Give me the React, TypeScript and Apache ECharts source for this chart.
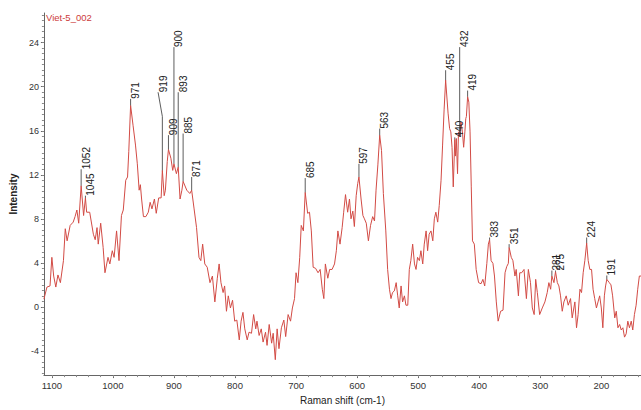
import React, { useEffect, useRef } from "react";
import * as echarts from "echarts";

const chartTitle = "Viet-5_002";
const xName = "Raman shift (cm-1)";
const yName = "Intensity";

const ramanShift = [
  1113, 1108, 1103, 1100, 1097, 1093.5, 1090, 1086, 1081, 1078, 1075, 1070, 1065, 1062, 1059, 1056, 1052, 1048, 1045, 1043,
  1038, 1032, 1029, 1026, 1024, 1020, 1016, 1013, 1008, 1005, 1001, 998, 994, 990, 986, 983, 979, 976, 974, 971,
  967, 963, 960, 957, 955, 953, 950, 946, 942, 939, 936, 932, 929, 925, 921, 919, 916, 914, 911, 909,
  905, 902, 900, 896, 893, 890, 887, 885, 879, 874, 871, 867, 863, 859, 856, 853, 849.5, 845.5, 841, 837,
  833, 829, 826, 823, 819.5, 817, 814, 811, 807.5, 804, 800.5, 797, 793, 790, 787, 784, 780, 777, 773, 769.5,
  766, 764, 760.5, 757, 754, 750, 747.5, 744, 740, 737.5, 734, 731, 728, 724, 720, 717, 713, 709, 706, 702.5,
  700, 697, 694, 691.5, 688, 685, 681, 678, 675, 672, 668, 664, 660.5, 657, 654.5, 652, 648, 645, 641, 637,
  634, 631.5, 628, 624.5, 622, 619, 615.5, 612.5, 610, 607, 604.5, 601.5, 599, 597, 593.5, 590.5, 588, 585, 581.5, 578,
  574.5, 571.5, 569, 566, 563, 560, 557, 553, 550, 547, 544.5, 542, 539, 536, 533.5, 531, 528, 525.5, 522.5, 520,
  517, 514.5, 512, 509, 506, 503.5, 501, 498, 495.5, 492.5, 490, 487, 484.5, 482, 479, 476, 473.5, 471, 468, 465.5,
  462.5, 460, 457.5, 455, 451, 448.5, 446.5, 444.5, 442.5, 440, 439, 437.5, 435.5, 434, 432, 430, 427.5, 425.5, 423.5, 422,
  421, 419, 417, 415, 413, 411, 408, 405, 401, 397, 394, 391, 387.5, 385, 383, 380.5, 377.5, 375, 372, 369,
  365, 361, 357.7, 355, 352.3, 351, 347.5, 344.8, 341.5, 339.4, 335.8, 333.6, 330.4, 326.6, 322.7, 319.5, 316, 313, 310, 307.5,
  304.8, 301, 296.7, 292.4, 288.6, 285.9, 283, 281, 277.6, 275, 272, 269.5, 266.8, 264, 261.3, 257.5, 254.2, 250.4, 247.7, 243.3,
  240.6, 238, 235, 232.4, 229.7, 227, 224, 221.5, 218.8, 216, 213.5, 210.8, 208, 205.4, 202.7, 200, 197.5, 195, 193, 191,
  186.9, 184.2, 181.5, 178, 175.5, 172.8, 170, 167.4, 164.7, 162, 159.3, 156.6, 153.9, 151, 148.5, 145.8, 143, 140.4, 137.7, 135,
];

const intensity = [
  0.7, 1.8, 1.9, 4.5, 2.8, 1.8, 2.9, 2.2, 4.2, 7.1, 6.0, 7.4, 7.7, 8.2, 8.8, 7.6, 11.0, 8.3, 9.9, 8.6,
  8.6, 6.6, 6.1, 7.2, 5.7, 7.6, 5.4, 3.1, 4.5, 3.9, 5.1, 4.5, 6.9, 4.2, 8.3, 8.8, 11.5, 11.8, 14.1, 18.3,
  16.5, 14.7, 13.0, 10.6, 11.1, 9.8, 8.2, 8.2, 8.6, 9.5, 8.9, 9.8, 8.5, 9.9, 9.9, 12.4, 10.1, 10.6, 13.2, 14.3,
  13.5, 12.4, 13.0, 12.1, 12.7, 9.8, 10.6, 11.4, 10.6, 10.3, 10.6, 8.9, 7.2, 4.5, 4.2, 5.7, 3.9, 3.6, 2.2, 2.8,
  0.45, 2.6, 3.9, 2.2, 1.3, 1.9, -0.4, 1.0, -0.1, 0.6, -1.3, -1.2, -3.0, -1.3, -0.5, -2.0, -3.0, -2.3, -2.4, -0.7,
  -2.0, -1.3, -2.6, -2.0, -3.2, -2.3, -3.5, -1.6, -3.3, -2.4, -4.8, -2.0, -3.8, -1.9, -1.2, -2.7, -0.7, -1.3, -0.1, 0.75,
  3.1, 2.2, 4.5, 7.4, 6.9, 10.4, 8.5, 8.6, 6.9, 3.6, 3.5, 3.1, 3.4, 1.6, 0.75, 3.9, 2.6, 3.4, 3.4, 3.9,
  5.1, 6.9, 5.7, 7.2, 8.6, 10.2, 8.6, 9.8, 8.0, 8.7, 7.3, 10.1, 11.2, 11.8, 9.8, 8.3, 8.0, 7.6, 6.0, 7.4,
  8.2, 7.8, 10.6, 12.9, 15.6, 14.2, 10.3, 6.9, 3.4, 1.6, 0.75, 1.3, 1.45, 2.2, 1.0, -0.1, 1.9, 0.45, 1.0, 0.15,
  0.15, 3.4, 4.2, 5.7, 3.9, 3.4, 4.5, 4.2, 5.1, 3.9, 5.7, 6.9, 5.1, 6.6, 6.9, 6.0, 8.0, 8.6, 7.7, 9.2,
  11.5, 14.7, 17.9, 20.6, 17.6, 16.2, 15.9, 14.5, 10.9, 15.2, 13.7, 15.3, 12.1, 15.9, 15.5, 16.8, 15.9, 14.5, 15.9, 17.1,
  17.3, 19.1, 18.6, 15.9, 10.9, 6.0, 5.7, 3.4, 2.2, 2.1, 2.5, 1.9, 3.95, 5.7, 6.1, 4.2, 3.95, 2.8, 0.45, -1.3,
  -0.4, -0.3, 3.1, 3.65, 3.95, 5.4, 4.5, 4.2, 2.8, 3.4, 1.0, 3.1, 3.1, 3.4, 0.75, 3.4, 2.2, -0.1, -0.7, 2.5,
  1.3, -0.7, -0.1, 0.45, 1.3, 2.2, 1.6, 2.8, 2.2, 3.2, 2.2, 1.9, 1.0, -0.4, 0.45, 1.0, 0.15, 0.75, -1.0, 0.45,
  -1.9, -0.7, 1.6, 1.3, 3.1, 4.2, 5.8, 4.2, 3.4, 3.4, 1.6, 0.75, -0.1, 0.45, 1.0, -0.1, -1.9, 1.0, 1.9, 2.5,
  2.2, 2.0, 1.0, -1.0, -0.4, -1.9, -1.6, -2.1, -1.9, -2.75, -2.45, -1.3, -1.9, -1.3, -2.1, -0.7, 0.15, 1.6, 2.8, 2.8,
];

// peak annotations: position, curve value at line foot, value at label start, label position, bend height
const peakShift = [1052, 1045, 971, 919, 909, 900, 893, 885, 871, 685, 597, 563, 455, 440, 432, 419, 383, 351, 281, 275, 224, 191];
const peakBase = [11.0, 9.9, 18.3, 12.4, 14.3, 13.0, 12.7, 11.4, 10.6, 10.4, 11.8, 15.6, 20.6, 15.2, 15.5, 19.1, 6.1, 5.4, 2.8, 3.2, 5.8, 2.5];
const peakTop = [12.5, 10.1, 18.9, 19.5, 15.6, 23.6, 19.5, 15.75, 11.8, 11.7, 13.0, 16.2, 21.5, 15.4, 23.6, 19.65, 6.3, 5.7, 3.3, 3.3, 6.3, 2.85];
const peakLabelShift = [1052, 1045, 971, 926, 909, 900, 893, 885, 871, 685, 597, 563, 455, 440, 432, 419, 383, 351, 281, 275, 224, 191];
const peakBend = [12.5, 10.1, 18.9, 17.3, 15.6, 23.6, 19.5, 15.75, 11.8, 11.7, 13.0, 16.2, 21.5, 15.4, 23.6, 19.65, 6.3, 5.7, 3.3, 3.3, 6.3, 2.85];

const xTicks = [1100, 1000, 900, 800, 700, 600, 500, 400, 300, 200];
const yTicks = [-4, 0, 4, 8, 12, 16, 20, 24];
const xMin = 135;
const xMax = 1113;
const yMin = -6.2;
const yMax = 26.7;

const xMinorTicks: number[] = [];
for (let v = 140; v <= 1110; v += 20) xMinorTicks.push(v);
const yMinorTicks: number[] = [];
for (let v = -6; v <= 26.5; v += 0.5) yMinorTicks.push(v);

const FONT = "'Liberation Sans', Arial, sans-serif";

export default function App() {
  const ref = useRef<HTMLDivElement>(null);
  useEffect(() => {
    if (!ref.current) return;
    const chart = echarts.init(ref.current, undefined, { renderer: "svg" });
    const lineData = ramanShift.map((x, i) => [x, intensity[i]]);
    const peakData = peakShift.map((x, i) => [x, peakBase[i], peakTop[i], peakLabelShift[i], peakBend[i]]);
    chart.setOption({
      animation: false,
      title: {
        text: chartTitle,
        left: 46,
        top: 12,
        padding: 0,
        textStyle: { fontSize: 9.5, color: "#cc3b3b", fontWeight: "normal", fontFamily: FONT },
      },
      grid: { left: 42, right: 0, top: 13, bottom: 20 },
      xAxis: [
        {
          type: "value",
          min: xMin,
          max: xMax,
          inverse: true,
          name: xName,
          nameLocation: "middle",
          nameGap: 14,
          nameTextStyle: { fontSize: 10, color: "#222", fontFamily: FONT },
          axisLine: { show: true, onZero: false, lineStyle: { color: "#666", width: 1 } },
          axisTick: { show: true, customValues: xTicks, length: 3, lineStyle: { color: "#666" } },
          axisLabel: {
            customValues: xTicks,
            fontSize: 9.5,
            color: "#333",
            margin: 5,
            fontFamily: FONT,
            formatter: (v: number) => String(v),
          },
          splitLine: { show: false },
        },
        {
          type: "value",
          min: xMin,
          max: xMax,
          inverse: true,
          position: "bottom",
          axisLine: { show: false, onZero: false },
          axisTick: { show: true, customValues: xMinorTicks, length: 2, lineStyle: { color: "#888" } },
          axisLabel: { show: false },
          splitLine: { show: false },
        },
      ],
      yAxis: [
        {
          type: "value",
          min: yMin,
          max: yMax,
          name: yName,
          nameLocation: "middle",
          nameGap: 17,
          nameTextStyle: { fontSize: 10, color: "#222", fontWeight: "bold", fontFamily: FONT },
          axisLine: { show: true, onZero: false, lineStyle: { color: "#666", width: 1 } },
          axisTick: { show: true, customValues: yTicks, length: 3, lineStyle: { color: "#666" } },
          axisLabel: { customValues: yTicks, fontSize: 9, color: "#333", margin: 5, fontFamily: FONT },
          splitLine: { show: false },
        },
        {
          type: "value",
          min: yMin,
          max: yMax,
          position: "left",
          axisLine: { show: false, onZero: false },
          axisTick: { show: true, customValues: yMinorTicks, length: 2, lineStyle: { color: "#888" } },
          axisLabel: { show: false },
          splitLine: { show: false },
        },
      ],
      series: [
        {
          type: "line",
          data: lineData,
          showSymbol: false,
          symbol: "none",
          lineStyle: { color: "#d24b45", width: 1 },
          silent: true,
          z: 2,
        },
        {
          type: "custom",
          data: peakData,
          clip: false,
          silent: true,
          z: 3,
          renderItem: (_params: any, api: any) => {
            const x = api.value(0);
            const p0 = api.coord([x, api.value(1)]);
            const p1 = api.coord([x, api.value(4)]);
            const p2 = api.coord([api.value(3), api.value(2)]);
            return {
              type: "group",
              children: [
                {
                  type: "polyline",
                  shape: { points: [p0, p1, p2] },
                  style: { stroke: "#333", lineWidth: 0.8, fill: null },
                },
                {
                  type: "text",
                  x: p2[0],
                  y: p2[1],
                  rotation: Math.PI / 2,
                  style: {
                    text: String(x),
                    fontSize: 10,
                    fontFamily: FONT,
                    fill: "#222",
                    align: "left",
                    verticalAlign: "top",
                  },
                },
              ],
            };
          },
        },
      ],
    });
    return () => chart.dispose();
  }, []);
  return <div ref={ref} style={{ width: 641, height: 410, position: "absolute", left: 0, top: 0 }} />;
}
